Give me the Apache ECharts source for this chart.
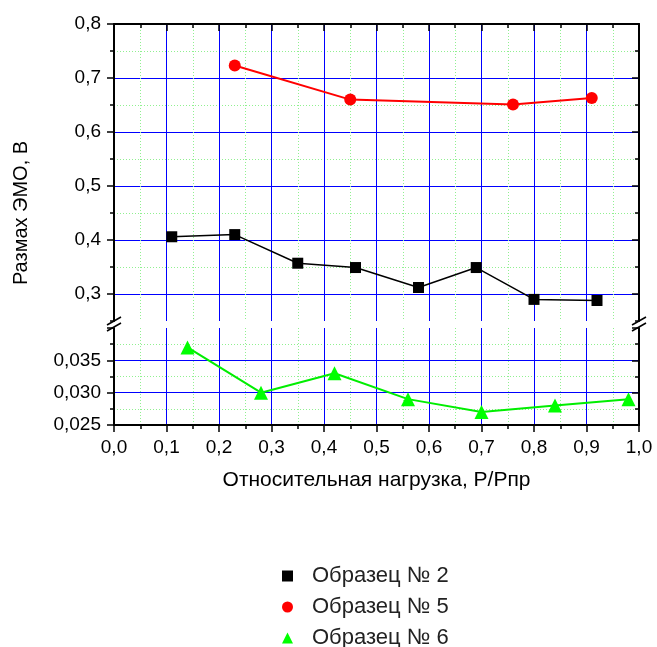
<!DOCTYPE html>
<html>
<head>
<meta charset="utf-8">
<script src="https://cdn.jsdelivr.net/npm/echarts@6/dist/echarts.min.js"></script>
<style>
  html, body { margin: 0; padding: 0; background: #fff; }
  #main { width: 657px; height: 647px; }
</style>
</head>
<body>
<div id="main"></div>
<script>
// Образец №2 (верхняя шкала)
var loadX2 = [0.11, 0.23, 0.35, 0.46, 0.58, 0.69, 0.80, 0.92];
var emo2 = [0.406, 0.410, 0.357, 0.349, 0.312, 0.349, 0.290, 0.288];
// Образец №5 (верхняя шкала)
var loadX5 = [0.23, 0.45, 0.76, 0.91];
var emo5 = [0.723, 0.660, 0.651, 0.663];
// Образец №6 (нижняя шкала)
var loadX6 = [0.14, 0.28, 0.42, 0.56, 0.70, 0.84, 0.98];
var emo6 = [0.037, 0.030, 0.033, 0.029, 0.027, 0.028, 0.029];

var seriesNames = ['Образец № 2', 'Образец № 5', 'Образец № 6'];
var upperTicks = [0.3, 0.4, 0.5, 0.6, 0.7, 0.8]; // подписи верхней шкалы

function pairs(xs, ys) {
  return xs.map(function (x, i) { return [x, ys[i]]; });
}
function comma(d) {
  return function (v) { return (+v).toFixed(d).replace('.', ','); };
}

var font = 'Arial, "Liberation Sans", sans-serif';
var blue = '#0000ff';
var green = '#90f090';
var clear = 'rgba(0,0,0,0)';
var blackLine = { color: '#000', width: 2 };
var tickLine = { color: '#000', width: 1.5 };

function xAxisCfg(grid, pos, labels) {
  return {
    type: 'value', gridIndex: grid, position: pos,
    min: 0, max: 1, interval: 0.1,
    axisLine: { show: true, onZero: false, lineStyle: blackLine },
    axisTick: { show: true, inside: !labels, length: 7, lineStyle: tickLine },
    minorTick: { show: true, splitNumber: 2, length: 4, lineStyle: tickLine },
    axisLabel: { show: labels, formatter: comma(1), color: '#000', fontSize: 19, fontFamily: font, margin: 13 },
    splitLine: { show: true, showMinLine: false, showMaxLine: false, lineStyle: { color: blue, width: 1 } },
    minorSplitLine: { show: true, lineStyle: { color: green, width: 1, type: [1, 2] } }
  };
}

// верхняя шкала 0,25..0,8 с шагом 0,05 — основная и вспомогательная сетка
function upperCfg(pos, major) {
  var inside = pos === 'right';
  var cfg = {
    type: 'value', gridIndex: 0, position: pos,
    min: 0.25, max: 0.8, interval: 0.05,
    axisLine: { show: !major, onZero: false, lineStyle: blackLine },
    axisTick: { show: true, inside: inside, length: major ? 7 : 4, lineStyle: tickLine },
    minorTick: { show: false },
    axisLabel: { show: false },
    splitLine: { show: false },
    minorSplitLine: { show: false }
  };
  if (major) {
    cfg.axisTick.customValues = upperTicks;
    if (!inside) {
      cfg.axisLabel = { show: true, customValues: upperTicks, formatter: comma(1),
        color: '#000', fontSize: 19, fontFamily: font, margin: 13 };
    }
  } else if (!inside) {
    cfg.splitLine = { show: true, lineStyle: { color: [clear, blue], width: 1 } };
  } else {
    cfg.splitLine = { show: true, showMinLine: false, lineStyle: { color: [clear, green], width: 1, type: [1, 2] } };
  }
  return cfg;
}

function lowerCfg(pos) {
  var main = pos === 'left';
  return {
    type: 'value', gridIndex: 1, position: pos,
    min: 0.025, max: 0.04, interval: 0.005,
    axisLine: { show: true, onZero: false, lineStyle: blackLine },
    axisTick: { show: true, inside: !main, length: 7, lineStyle: tickLine },
    minorTick: { show: true, splitNumber: 2, length: 4, lineStyle: tickLine },
    axisLabel: { show: main, formatter: comma(3), color: '#000', fontSize: 19, fontFamily: font, margin: 13,
      showMaxLabel: false },
    splitLine: { show: main, showMinLine: false, showMaxLine: false, lineStyle: { color: blue, width: 1 } },
    minorSplitLine: { show: main, lineStyle: { color: green, width: 1, type: [1, 2] } }
  };
}

var myChart = echarts.init(document.getElementById('main'), null, { renderer: 'canvas' });
var gridL = 114, gridR = 18, topTop = 24, topH = 297, botTop = 328, botH = 97;

var xTitle = xAxisCfg(1, 'bottom', true);
xTitle.name = 'Относительная нагрузка, Р/Рпр';
xTitle.nameLocation = 'middle';
xTitle.nameGap = 45;
xTitle.nameTextStyle = { color: '#000', fontSize: 21, fontFamily: font };

function breakMark(x, y) {
  return [0, 6].map(function (d) {
    return {
      type: 'line', z: 100,
      shape: { x1: x - 7, y1: y + 7 - d, x2: x + 7, y2: y - 1 - d },
      style: { stroke: '#000', lineWidth: 1.5 }
    };
  });
}

var legendIcons = ['rect', 'circle', 'triangle'];
var legends = seriesNames.map(function (name, i) {
  return {
    orient: 'vertical', left: 277, top: 560 + i * 31,
    itemWidth: 11, itemHeight: 11,
    textStyle: { color: '#222', fontSize: 22, fontFamily: font, padding: [0, 0, 0, 14] },
    data: [{ name: name, icon: legendIcons[i] }]
  };
});

myChart.setOption({
  backgroundColor: '#fff',
  animation: false,
  grid: [
    { left: gridL, right: gridR, top: topTop, height: topH },
    { left: gridL, right: gridR, top: botTop, height: botH }
  ],
  xAxis: [
    xAxisCfg(0, 'top', false),
    xTitle
  ],
  yAxis: [
    upperCfg('left', false),
    upperCfg('right', false),
    upperCfg('left', true),
    upperCfg('right', true),
    lowerCfg('left'),
    lowerCfg('right')
  ],
  legend: legends,
  graphic: [
    {
      type: 'text', x: 21, y: 213, rotation: Math.PI / 2,
      style: { text: 'Размах ЭМО, В', fill: '#000', font: '20px ' + font, align: 'center', verticalAlign: 'middle' }
    }
  ].concat(breakMark(gridL, 324), breakMark(657 - gridR, 324)),
  series: [
    {
      name: seriesNames[0], type: 'line', xAxisIndex: 0, yAxisIndex: 0,
      data: pairs(loadX2, emo2),
      symbol: 'rect', symbolSize: 11,
      itemStyle: { color: '#000' }, lineStyle: { color: '#000', width: 1.5 }, z: 5
    },
    {
      name: seriesNames[1], type: 'line', xAxisIndex: 0, yAxisIndex: 0,
      data: pairs(loadX5, emo5),
      symbol: 'circle', symbolSize: 12,
      itemStyle: { color: '#ff0000' }, lineStyle: { color: '#ff0000', width: 2 }, z: 5
    },
    {
      name: seriesNames[2], type: 'line', xAxisIndex: 1, yAxisIndex: 4,
      data: pairs(loadX6, emo6),
      symbol: 'triangle', symbolSize: 14,
      itemStyle: { color: '#00ff00' }, lineStyle: { color: '#00ee00', width: 2 }, z: 5
    }
  ]
});
</script>
</body>
</html>
